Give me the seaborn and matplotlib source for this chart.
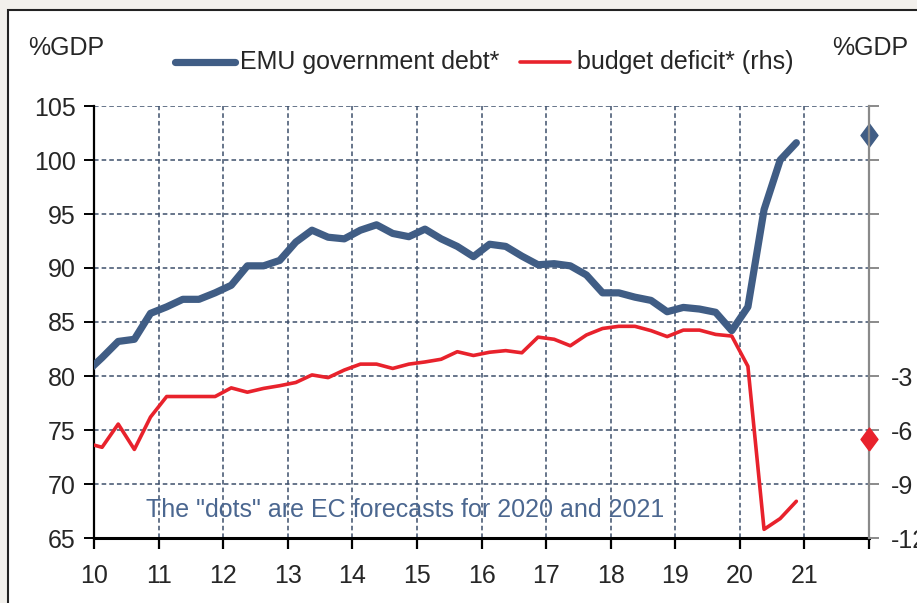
import numpy as np
import pandas as pd
import matplotlib
matplotlib.use("Agg")
import matplotlib.pyplot as plt
import seaborn as sns
from matplotlib.patches import Rectangle
from matplotlib.lines import Line2D

# ---------------- data ----------------
quarters = pd.period_range("2009Q4", "2020Q4", freq="Q")
debt = [80.3, 81.7, 83.2, 83.4, 85.8, 86.4, 87.1, 87.1, 87.7,
        88.4, 90.2, 90.2, 90.7, 92.4, 93.5, 92.85, 92.7,
        93.5, 94.0, 93.2, 92.9, 93.6, 92.7, 92.0, 91.05,
        92.2, 92.0, 91.1, 90.3, 90.4, 90.2, 89.35, 87.7,
        87.7, 87.3, 87.0, 85.95, 86.35, 86.2, 85.9, 84.2,
        86.4, 95.4, 100.0, 101.6]
deficit = [-6.72, -6.96, -5.67, -7.08, -5.28, -4.14, -4.14, -4.14, -4.14,
           -3.66, -3.90, -3.69, -3.54, -3.36, -2.94, -3.09, -2.67,
           -2.34, -2.34, -2.58, -2.34, -2.22, -2.07, -1.65, -1.86,
           -1.68, -1.59, -1.71, -0.84, -0.96, -1.32, -0.72, -0.36,
           -0.24, -0.24, -0.48, -0.81, -0.45, -0.45, -0.69, -0.78,
           -2.46, -11.52, -10.92, -9.96]
forecast_x = 22
debt_forecast = 102.3
deficit_forecast = -6.5

x_ticks = list(range(10, 23))
x_labels = [str(t) for t in range(10, 22)] + [""]
left_ticks = [65, 70, 75, 80, 85, 90, 95, 100, 105]
right_ticks = [-12, -9, -6, -3, 0, 3, 6, 9, 12]
right_labels = ["-12", "-9", "-6", "-3", "", "", "", "", ""]
series_names = ["EMU government debt*", "budget deficit* (rhs)"]

BLUE = "#405d85"
RED = "#e8222c"
GRID = "#3d4f6b"

df = pd.DataFrame({
    "x": [(q.year - 2000) + (q.quarter - 1) * 0.25 + 0.125 for q in quarters],
    "debt": debt,
    "deficit": deficit,
})

# ---------------- style ----------------
sns.set_style("white")
FONT = ["Liberation Sans Narrow", "Liberation Sans", "DejaVu Sans"]
plt.rcParams["font.family"] = FONT
FS = 18

W, H = 917, 603
fig = plt.figure(figsize=(W / 100, H / 100), dpi=100, facecolor="#f2f0ec")
panel = Rectangle((8 / W, -0.01), 1.05, 1 - 10 / H + 0.01,
                  transform=fig.transFigure, facecolor="white",
                  edgecolor="#222222", linewidth=1.5, zorder=-5)
fig.add_artist(panel)

L, R, T, B = 94, 869, 106, 538
ax = fig.add_axes([L / W, 1 - B / H, (R - L) / W, (B - T) / H])
ax.set_facecolor("none")
ax2 = ax.twinx()
ax2.set_facecolor("none")

sns.lineplot(data=df, x="x", y="debt", ax=ax, color=BLUE, linewidth=5.2,
             solid_capstyle="round", solid_joinstyle="round", zorder=4)
sns.lineplot(data=df, x="x", y="deficit", ax=ax2, color=RED, linewidth=2.6,
             zorder=3)

tall_diamond = [(0, -1.35), (1, 0), (0, 1.35), (-1, 0), (0, -1.35)]
ax.plot([forecast_x], [debt_forecast], marker=tall_diamond, color=BLUE,
        markersize=16.5, linestyle="none", clip_on=False, zorder=6)
ax2.plot([forecast_x], [deficit_forecast], marker=tall_diamond, color=RED,
         markersize=16.5, linestyle="none", clip_on=False, zorder=6)

ax.set_xlim(10, 22)
ax.set_ylim(65, 105)
ax2.set_ylim(-12, 12)

ax.set_xticks(x_ticks)
ax.set_xticklabels(x_labels)
ax.set_yticks(left_ticks)
ax.set_yticklabels([str(v) for v in left_ticks])
ax2.set_yticks(right_ticks)
ax2.set_yticklabels(right_labels)

for a in (ax, ax2):
    a.set_xlabel("")
    a.set_ylabel("")

ax.grid(False)
ax2.grid(False)
for xv in range(11, 22):
    ax.axvline(xv, color=GRID, linestyle=(0, (3.0, 2.0)), linewidth=1.1, zorder=1)
for yv in left_ticks[1:]:
    ax.axhline(yv, color=GRID, linestyle=(0, (3.0, 2.0)), linewidth=1.1, zorder=1)

for s in ["top", "right"]:
    ax.spines[s].set_visible(False)
for s in ["top", "left", "bottom"]:
    ax2.spines[s].set_visible(False)
ax.spines["left"].set_color("black")
ax.spines["left"].set_linewidth(1.6)
ax.spines["bottom"].set_color("black")
ax.spines["bottom"].set_linewidth(2.2)
ax2.spines["right"].set_color("#8a8a8a")
ax2.spines["right"].set_linewidth(1.6)

ax.tick_params(axis="y", direction="out", length=7, width=1.4, color="black",
               labelsize=FS, pad=6, left=True)
ax.tick_params(axis="x", direction="out", length=8, width=1.6, color="black",
               labelsize=FS, pad=11, bottom=True)
ax2.tick_params(axis="y", direction="out", length=7, width=1.4, color="#8a8a8a",
                labelsize=FS, pad=9, right=True)

# texts
fig.text(28 / W, 1 - 48 / H, "%GDP", fontsize=FS, ha="left", va="center")
fig.text(908 / W, 1 - 48 / H, "%GDP", fontsize=FS, ha="right", va="center")
fig.text(146 / W, 1 - 510 / H, 'The "dots" are EC forecasts for 2020 and 2021',
         fontsize=FS, color="#4b6790", ha="left", va="center")

# legend (drawn in figure pixels to match the reference layout)
ly = 1 - 62 / H
fig.add_artist(Line2D([175 / W, 235 / W], [ly, ly], transform=fig.transFigure,
                      color=BLUE, linewidth=5.2, solid_capstyle="round"))
fig.text(240 / W, ly, series_names[0], fontsize=FS, ha="left", va="center")
fig.add_artist(Line2D([520 / W, 570 / W], [ly, ly], transform=fig.transFigure,
                      color=RED, linewidth=2.6))
fig.text(577 / W, ly, series_names[1], fontsize=FS, ha="left", va="center")

fig.savefig("out.png", dpi=100, facecolor=fig.get_facecolor())
